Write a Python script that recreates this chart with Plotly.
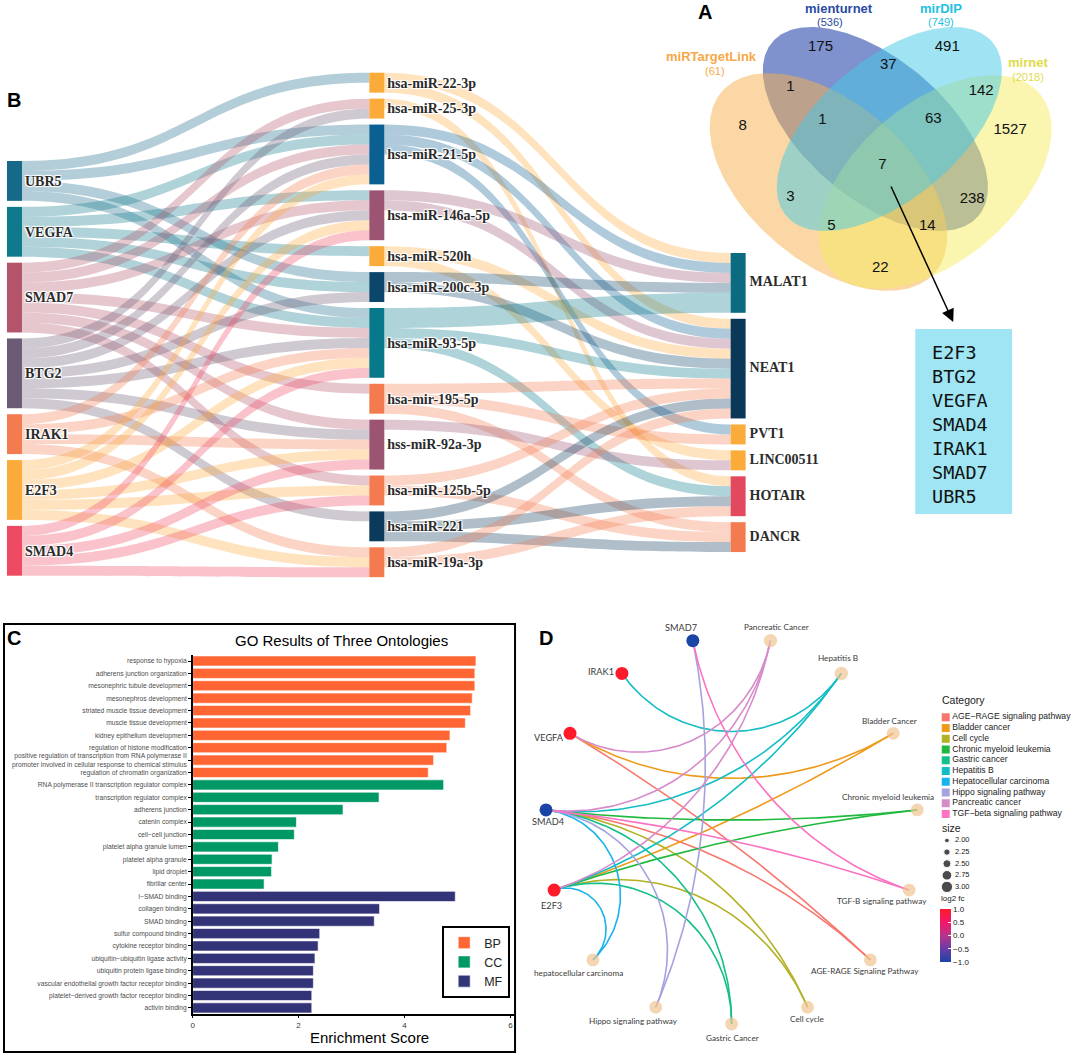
import numpy as np
import plotly.graph_objects as go

FIG_W, FIG_H = 1072, 1055


def fx(p):
    return p / FIG_W


def fy(p):
    return 1 - p / FIG_H


# ===================== DATA =====================
# ---- Panel A : Venn diagram
venn_sets = ["miRTargetLink", "mienturnet", "mirDIP", "mirnet"]
venn_set_sizes = [61, 536, 749, 2018]
venn_region_counts = [175, 491, 37, 1, 142, 8, 1, 63, 1527, 7, 3, 238, 5, 14, 22]
venn_common_genes = ["E2F3", "BTG2", "VEGFA", "SMAD4", "IRAK1", "SMAD7", "UBR5"]

# ---- Panel B : Sankey (gene -> miRNA -> lncRNA)
sankey_genes = ["UBR5", "VEGFA", "SMAD7", "BTG2", "IRAK1", "E2F3", "SMAD4"]
sankey_mirnas = ["hsa-miR-22-3p", "hsa-miR-25-3p", "hsa-miR-21-5p", "hsa-miR-146a-5p",
                 "hsa-miR-520h", "hsa-miR-200c-3p", "hsa-miR-93-5p", "hsa-mir-195-5p",
                 "hss-miR-92a-3p", "hsa-miR-125b-5p", "hsa-miR-221", "hsa-miR-19a-3p"]
sankey_lncrnas = ["MALAT1", "NEAT1", "PVT1", "LINC00511", "HOTAIR", "DANCR"]
gene_mirna_links = [
    ("UBR5", "hsa-miR-22-3p", 1), ("UBR5", "hsa-miR-21-5p", 1), ("UBR5", "hsa-miR-200c-3p", 1),
    ("UBR5", "hsa-miR-93-5p", 1),
    ("VEGFA", "hsa-miR-21-5p", 1), ("VEGFA", "hsa-miR-146a-5p", 1), ("VEGFA", "hsa-miR-520h", 1),
    ("VEGFA", "hsa-miR-200c-3p", 1), ("VEGFA", "hsa-miR-93-5p", 1),
    ("SMAD7", "hsa-miR-25-3p", 1), ("SMAD7", "hsa-miR-21-5p", 1), ("SMAD7", "hsa-miR-146a-5p", 1),
    ("SMAD7", "hsa-miR-93-5p", 1), ("SMAD7", "hsa-mir-195-5p", 1), ("SMAD7", "hss-miR-92a-3p", 1),
    ("SMAD7", "hsa-miR-125b-5p", 1),
    ("BTG2", "hsa-miR-25-3p", 1), ("BTG2", "hsa-miR-21-5p", 1), ("BTG2", "hsa-miR-146a-5p", 1),
    ("BTG2", "hsa-miR-200c-3p", 1), ("BTG2", "hsa-miR-93-5p", 1), ("BTG2", "hss-miR-92a-3p", 1),
    ("BTG2", "hsa-miR-221", 1),
    ("IRAK1", "hsa-miR-21-5p", 1), ("IRAK1", "hsa-miR-93-5p", 1), ("IRAK1", "hss-miR-92a-3p", 1),
    ("IRAK1", "hsa-miR-19a-3p", 1),
    ("E2F3", "hsa-miR-21-5p", 1), ("E2F3", "hsa-miR-146a-5p", 1), ("E2F3", "hsa-miR-93-5p", 1),
    ("E2F3", "hss-miR-92a-3p", 1), ("E2F3", "hsa-miR-125b-5p", 1), ("E2F3", "hsa-miR-19a-3p", 1),
    ("SMAD4", "hsa-miR-146a-5p", 1), ("SMAD4", "hsa-miR-93-5p", 1), ("SMAD4", "hss-miR-92a-3p", 1),
    ("SMAD4", "hsa-miR-125b-5p", 1), ("SMAD4", "hsa-miR-19a-3p", 1),
]
mirna_lnc_links = [
    ("hsa-miR-22-3p", "MALAT1", 1), ("hsa-miR-22-3p", "NEAT1", 1),
    ("hsa-miR-25-3p", "HOTAIR", 1),
    ("hsa-miR-21-5p", "MALAT1", 1), ("hsa-miR-21-5p", "NEAT1", 1), ("hsa-miR-21-5p", "PVT1", 1),
    ("hsa-miR-146a-5p", "MALAT1", 1), ("hsa-miR-146a-5p", "NEAT1", 1),
    ("hsa-miR-520h", "NEAT1", 1), ("hsa-miR-520h", "LINC00511", 1),
    ("hsa-miR-200c-3p", "MALAT1", 1), ("hsa-miR-200c-3p", "NEAT1", 1),
    ("hsa-miR-93-5p", "MALAT1", 2), ("hsa-miR-93-5p", "NEAT1", 1), ("hsa-miR-93-5p", "HOTAIR", 1),
    ("hsa-mir-195-5p", "NEAT1", 1), ("hsa-mir-195-5p", "PVT1", 1), ("hsa-mir-195-5p", "DANCR", 1),
    ("hss-miR-92a-3p", "LINC00511", 1),
    ("hsa-miR-125b-5p", "NEAT1", 1), ("hsa-miR-125b-5p", "DANCR", 1),
    ("hsa-miR-221", "NEAT1", 1), ("hsa-miR-221", "HOTAIR", 1), ("hsa-miR-221", "DANCR", 1),
    ("hsa-miR-19a-3p", "NEAT1", 1), ("hsa-miR-19a-3p", "HOTAIR", 1),
]

# ---- Panel C : GO enrichment
go_bp_terms = ["response to hypoxia", "adherens junction organization", "mesonephric tubule development",
               "mesonephros development", "striated muscle tissue development", "muscle tissue development",
               "kidney epithelium development", "regulation of histone modification",
               "positive regulation of transcription from RNA polymerase II<br>promoter involved in cellular response to chemical stimulus",
               "regulation of chromatin organization"]
go_bp_scores = [5.35, 5.33, 5.33, 5.28, 5.25, 5.15, 4.86, 4.80, 4.55, 4.45]
go_cc_terms = ["RNA polymerase II transcription regulator complex", "transcription regulator complex",
               "adherens junction", "catenin complex", "cell\u2212cell junction", "platelet alpha granule lumen",
               "platelet alpha granule", "lipid droplet", "fibrillar center"]
go_cc_scores = [4.74, 3.52, 2.84, 1.96, 1.92, 1.62, 1.50, 1.49, 1.35]
go_mf_terms = ["I\u2212SMAD binding", "collagen binding", "SMAD binding", "sulfur compound binding",
               "cytokine receptor binding", "ubiquitin\u2212ubiquitin ligase activity",
               "ubiquitin protein ligase binding", "vascular endothelial growth factor receptor binding",
               "platelet\u2212derived growth factor receptor binding", "activin binding"]
go_mf_scores = [4.96, 3.53, 3.43, 2.40, 2.37, 2.31, 2.28, 2.28, 2.25, 2.25]
go_ontologies = ["BP", "CC", "MF"]

# ---- Panel D : gene-pathway network
cnet_genes = ["SMAD7", "IRAK1", "VEGFA", "SMAD4", "E2F3"]
cnet_gene_log2fc = [-1.0, 1.0, 1.0, -1.0, 1.0]
cnet_pathways = ["hepatocellular carcinoma", "Hippo signaling pathway", "Gastric Cancer", "Cell cycle",
                 "AGE-RAGE Signaling Pathway", "TGF-B signaling pathway", "Chronic myeloid leukemia",
                 "Bladder Cancer", "Hepatitis B", "Pancreatic Cancer"]
cnet_categories = ["AGE\u2212RAGE signaling pathway", "Bladder cancer", "Cell cycle",
                   "Chronic myeloid leukemia", "Gastric cancer", "Hepatitis B", "Hepatocellular carcinoma",
                   "Hippo signaling pathway", "Pancreatic cancer", "TGF\u2212beta signaling pathway"]
cnet_pathway_category = ["Hepatocellular carcinoma", "Hippo signaling pathway", "Gastric cancer",
                         "Cell cycle", "AGE\u2212RAGE signaling pathway", "TGF\u2212beta signaling pathway",
                         "Chronic myeloid leukemia", "Bladder cancer", "Hepatitis B", "Pancreatic cancer"]
cnet_edges = [
    ("VEGFA", "Pancreatic Cancer"), ("SMAD4", "Pancreatic Cancer"), ("E2F3", "Pancreatic Cancer"),
    ("IRAK1", "Hepatitis B"), ("SMAD4", "Hepatitis B"), ("E2F3", "Hepatitis B"),
    ("VEGFA", "Bladder Cancer"), ("E2F3", "Bladder Cancer"),
    ("SMAD4", "Chronic myeloid leukemia"), ("E2F3", "Chronic myeloid leukemia"),
    ("SMAD7", "TGF-B signaling pathway"), ("SMAD4", "TGF-B signaling pathway"),
    ("VEGFA", "AGE-RAGE Signaling Pathway"), ("SMAD4", "AGE-RAGE Signaling Pathway"),
    ("SMAD4", "Cell cycle"), ("E2F3", "Cell cycle"),
    ("SMAD4", "Gastric Cancer"), ("E2F3", "Gastric Cancer"),
    ("SMAD7", "Hippo signaling pathway"), ("SMAD4", "Hippo signaling pathway"),
    ("SMAD4", "hepatocellular carcinoma"), ("E2F3", "hepatocellular carcinoma"),
]
size_legend_values = [2.00, 2.25, 2.50, 2.75, 3.00]
log2fc_ticks = [-1.0, -0.5, 0.0, 0.5, 1.0]

# ===================== STYLE / LAYOUT PARAMETERS =====================
SANS = "Liberation Sans, Arial, sans-serif"
SERIF = "Liberation Serif, Times New Roman, serif"
MONO = "DejaVu Sans Mono, monospace"
LABF = "Lato, sans-serif"

sankey_gene_colors = ["#17698a", "#0f7a8c", "#b4546b", "#6c5b76", "#f47b50", "#fbab3a", "#ef4a63"]
sankey_mirna_colors = ["#fbab3a", "#fbab3a", "#0b5f91", "#9b5572", "#fbab3a", "#0d466b", "#08788b",
                       "#f47b50", "#9b5572", "#f47b50", "#0b3a5a", "#f47b50"]
sankey_lnc_colors = ["#0b6b80", "#0b3858", "#fbab3a", "#fbab3a", "#e2495f", "#f47b50"]
LINK_ALPHA = 0.33

SK_TOP, SK_BOT = 72.5, 577.0
SK_W = 857.6
SK_PAD, SK_THICK = 6, 15
sk_col_center_x = [12.5, 375.5, 737.5]
sk_col_top = [161.0, 72.7, 253.0]

venn_fill_rgb = [(247, 175, 75), (23, 56, 164), (65, 201, 231), (245, 235, 95)]
venn_fill_alpha = [0.5, 0.55, 0.5, 0.5]
venn_draw_order = [1, 0, 3, 2]
venn_label_colors = ["#f5a948", "#2a4ba3", "#22c1e2", "#dedb4a"]
ell_cx = [828, 875, 889, 935]
ell_cy = [182, 129, 129, 182]
ell_a = [140, 135, 135, 137]
ell_b = [80, 70, 70, 79]
ell_ang = [40, 40, -40, -40]
# (name x, name y, size x, size y)
venn_set_label_pos = [(711, 56, 714, 71), (839, 8.5, 830, 22), (941, 8.5, 941, 22),
                      (1028, 62, 1028, 77)]
venn_region_pos = [(820, 47), (947, 47), (888, 65), (790, 87), (981, 91), (742, 126), (822, 120),
                   (933, 119), (1010, 130), (882, 165), (790, 197), (972, 199), (831, 226), (927, 226),
                   (880, 268)]

go_colors = {"BP": "#ff6633", "CC": "#009966", "MF": "#333377"}
C_X0, C_UNIT, C_XMAX = 191.0, 53.05, 6.08
C_ROW0, C_ROWSTEP = 661.0, 12.39

cat_colors = ["#F8766D", "#EE9B1C", "#B3B124", "#20B93E", "#14BF8A", "#12BEC4", "#17B3EE",
              "#A5A2E0", "#D68CCB", "#FB73C2"]
D_CX, D_CY, D_RX, D_RY = 731.0, 830.2, 187.0, 193.8
D_START_ANG = 102.0
D_XR, D_YR = (-1.2, 1.2), (-1.1, 1.15)
# label offsets (pixels, right / up) relative to node centre
gene_label_shift = [(-12, 13), (-21, 2), (-21, -4.5), (2, -12), (-3, -15)]
path_label_shift = [(-14, -13), (-22, -14), (1, -14), (-1, -12), (-5, -11.5), (-27, -11),
                    (-29, 12.5), (-4, 12), (-3.5, 15), (6, 14)]
fc_colorscale = [[0.0, "#1a44a6"], [0.25, "#6a3ba6"], [0.5, "#b8348c"], [0.75, "#f3176a"], [1.0, "#ff1a2a"]]

fig = go.Figure()

# ===================== PANEL B : SANKEY =====================
nodes = sankey_genes + sankey_mirnas + sankey_lncrnas
node_colors = sankey_gene_colors + sankey_mirna_colors + sankey_lnc_colors
idx = {n: i for i, n in enumerate(nodes)}
links = gene_mirna_links + mirna_lnc_links
inflow = np.zeros(len(nodes))
outflow = np.zeros(len(nodes))
for s, t, v in links:
    outflow[idx[s]] += v
    inflow[idx[t]] += v
node_val = np.maximum(inflow, outflow)
columns = [sankey_genes, sankey_mirnas, sankey_lncrnas]
sk_h = SK_BOT - SK_TOP
ky = min((sk_h - (len(c) - 1) * SK_PAD) / sum(node_val[idx[n]] for n in c) for c in columns)
node_x = [0.0] * len(nodes)
node_y = [0.0] * len(nodes)
node_center_px = {}
for ci, col in enumerate(columns):
    cum = sk_col_top[ci] - SK_TOP
    for n in col:
        h = node_val[idx[n]] * ky
        yc = cum + h / 2
        node_x[idx[n]] = sk_col_center_x[ci] / SK_W
        node_y[idx[n]] = yc / sk_h
        node_center_px[n] = SK_TOP + yc
        cum += h + SK_PAD


def rgba(hexc, a):
    hexc = hexc.lstrip("#")
    r, g, b = int(hexc[0:2], 16), int(hexc[2:4], 16), int(hexc[4:6], 16)
    return f"rgba({r},{g},{b},{a})"


link_colors = [rgba(node_colors[idx[s]], LINK_ALPHA) for s, t, v in links]
# right-column labels are drawn to the right of the nodes separately
node_labels = [n if n not in sankey_lncrnas else "" for n in nodes]

fig.add_trace(go.Sankey(
    domain=dict(x=[0, fx(SK_W)], y=[fy(SK_BOT), fy(SK_TOP)]),
    arrangement="fixed",
    node=dict(label=node_labels, color=node_colors, pad=SK_PAD, thickness=SK_THICK,
              line=dict(width=0), x=node_x, y=node_y, hoverinfo="none"),
    link=dict(source=[idx[s] for s, t, v in links], target=[idx[t] for s, t, v in links],
              value=[v for s, t, v in links], color=link_colors, hoverinfo="none"),
    textfont=dict(family=SERIF, size=14, color="#2b2b2b", weight="bold"),
))

# canvas axis (pixel coordinates) : x3 / y3
CAN = dict(xaxis="x3", yaxis="y3")
fig.add_trace(go.Scatter(
    x=[sk_col_center_x[2] + SK_THICK / 2 + 4] * len(sankey_lncrnas),
    y=[node_center_px[n] for n in sankey_lncrnas],
    text=sankey_lncrnas, mode="text", textposition="middle right",
    textfont=dict(family=SERIF, size=14, color="#2b2b2b", weight="bold"),
    hoverinfo="skip", showlegend=False, cliponaxis=False, **CAN))

# ===================== PANEL A : VENN =====================
def ellipse_xy(cx, cy, a, b, ang_deg, n=240):
    t = np.linspace(0, 2 * np.pi, n)
    th = np.deg2rad(ang_deg)
    x = cx + a * np.cos(t) * np.cos(th) - b * np.sin(t) * np.sin(th)
    y = cy + a * np.cos(t) * np.sin(th) + b * np.sin(t) * np.cos(th)
    return x, y


for k in venn_draw_order:
    ex, ey = ellipse_xy(ell_cx[k], ell_cy[k], ell_a[k], ell_b[k], ell_ang[k])
    r, g, b = venn_fill_rgb[k]
    fig.add_trace(go.Scatter(x=ex, y=ey, mode="lines", fill="toself", line=dict(width=0),
                             fillcolor=f"rgba({r},{g},{b},{venn_fill_alpha[k]})",
                             hoverinfo="skip", showlegend=False, **CAN))

fig.add_trace(go.Scatter(
    x=[p[0] for p in venn_region_pos], y=[p[1] for p in venn_region_pos],
    text=[str(c) for c in venn_region_counts], mode="text", textposition="middle center",
    textfont=dict(family=SANS, size=15, color="#111111"),
    hoverinfo="skip", showlegend=False, cliponaxis=False, **CAN))

annotations = []
for k, name in enumerate(venn_sets):
    x1, y1, x2, y2 = venn_set_label_pos[k]
    annotations.append(dict(x=x1, y=y1, xref="x3", yref="y3", text=f"<b>{name}</b>", showarrow=False,
                            borderpad=0, font=dict(family=SANS, size=13, color=venn_label_colors[k])))
    annotations.append(dict(x=x2, y=y2, xref="x3", yref="y3", text=f"({venn_set_sizes[k]})",
                            showarrow=False, borderpad=0,
                            font=dict(family=SANS, size=11, color=venn_label_colors[k])))

# arrow and gene box
annotations.append(dict(x=953, y=322, ax=890, ay=185, xref="x3", yref="y3", axref="x3", ayref="y3",
                        text="", showarrow=True, arrowhead=2, arrowsize=1.7, arrowwidth=1.5,
                        arrowcolor="black"))
annotations.append(dict(x=930, y=424, xref="x3", yref="y3", xanchor="left", yanchor="middle",
                        align="left", text="<br>".join(venn_common_genes), showarrow=False,
                        font=dict(family=MONO, size=18.5, color="#111111")))

shapes = [dict(type="rect", xref="x3", yref="y3", x0=915, x1=1012, y0=329, y1=514,
               fillcolor="#9fe5f3", line=dict(width=0), layer="below")]

# ===================== PANEL C : GO BAR CHART =====================
all_terms = go_bp_terms + go_cc_terms + go_mf_terms
n_rows = len(all_terms)
for ont, terms, scores in zip(go_ontologies, [go_bp_terms, go_cc_terms, go_mf_terms],
                              [go_bp_scores, go_cc_scores, go_mf_scores]):
    fig.add_trace(go.Bar(x=scores, y=terms, orientation="h", name=ont, width=0.82,
                         marker=dict(color=go_colors[ont], line=dict(color="white", width=0.6)),
                         hoverinfo="skip", xaxis="x", yaxis="y"))

c_top = C_ROW0 - C_ROWSTEP / 2
c_bot = C_ROW0 + (n_rows - 0.5) * C_ROWSTEP
annotations.append(dict(x=fx(340), y=fy(641), xref="paper", yref="paper", xanchor="center",
                        yanchor="middle", text="GO Results of Three Ontologies", showarrow=False,
                        font=dict(family=SANS, size=15, color="black")))
annotations.append(dict(x=fx(368), y=fy(1037), xref="paper", yref="paper", xanchor="center",
                        yanchor="middle", text="Enrichment Score", showarrow=False,
                        font=dict(family=SANS, size=15, color="black")))
shapes.append(dict(type="rect", xref="paper", yref="paper", x0=fx(2), x1=fx(514), y0=fy(1052),
                   y1=fy(624), line=dict(color="black", width=2), fillcolor="rgba(0,0,0,0)"))

# ===================== PANEL D : NETWORK =====================
layout_nodes = cnet_genes + cnet_pathways
n_nodes = len(layout_nodes)
angles = np.deg2rad(D_START_ANG + np.arange(n_nodes) * 360.0 / n_nodes)
pos = {n: np.array([np.cos(a), np.sin(a)]) for n, a in zip(layout_nodes, angles)}


def arc_points(p, q, n=80):
    s = p + q
    s2 = float(s @ s)
    t = np.linspace(0, 1, n)
    if s2 < 1e-6:
        return np.outer(1 - t, p) + np.outer(t, q)
    c = 2 * s / s2
    r = np.linalg.norm(p - c)
    a0 = np.arctan2(p[1] - c[1], p[0] - c[0])
    a1 = np.arctan2(q[1] - c[1], q[0] - c[0])
    d = (a1 - a0 + np.pi) % (2 * np.pi) - np.pi
    ang = a0 + d * t
    return np.column_stack([c[0] + r * np.cos(ang), c[1] + r * np.sin(ang)])


path_cat = dict(zip(cnet_pathways, cnet_pathway_category))
for ci, cat in enumerate(cnet_categories):
    xs, ys = [], []
    for g, pth in cnet_edges:
        if path_cat[pth] != cat:
            continue
        pts = arc_points(pos[g], pos[pth])
        xs += list(pts[:, 0]) + [None]
        ys += list(pts[:, 1]) + [None]
    fig.add_trace(go.Scatter(x=xs, y=ys, mode="lines", line=dict(color=cat_colors[ci], width=1.6),
                             hoverinfo="skip", showlegend=False, xaxis="x2", yaxis="y2"))

path_count = [sum(1 for g, pth in cnet_edges if pth == p) for p in cnet_pathways]
fig.add_trace(go.Scatter(
    x=[pos[p][0] for p in cnet_pathways], y=[pos[p][1] for p in cnet_pathways],
    mode="markers",
    marker=dict(color="#f0c591", size=[12.8 + 0.6 * (c - 2) for c in path_count], line=dict(width=0)),
    hoverinfo="skip", showlegend=False, cliponaxis=False, xaxis="x2", yaxis="y2"))

fig.add_trace(go.Scatter(
    x=[pos[g][0] for g in cnet_genes], y=[pos[g][1] for g in cnet_genes],
    mode="markers",
    marker=dict(color=cnet_gene_log2fc, colorscale=fc_colorscale, cmin=-1, cmax=1, size=13,
                line=dict(width=0), showscale=True,
                colorbar=dict(x=fx(940), xanchor="left", y=fy(909), yanchor="top",
                              len=53, lenmode="pixels", thickness=11, thicknessmode="pixels",
                              xpad=0, ypad=0, outlinewidth=0, tickvals=log2fc_ticks,
                              ticktext=[f"{v:.1f}".replace("-", "\u2212") for v in log2fc_ticks],
                              ticks="inside", tickcolor="white", ticklen=3,
                              tickfont=dict(family=SANS, size=8, color="#222"))),
    hoverinfo="skip", showlegend=False, cliponaxis=False, xaxis="x2", yaxis="y2"))

for g, (dx, dy) in zip(cnet_genes, gene_label_shift):
    annotations.append(dict(x=pos[g][0], y=pos[g][1], xref="x2", yref="y2", xshift=dx, yshift=dy,
                            text=g, showarrow=False, font=dict(family=LABF, size=9.2, color="#3a3a3a")))
for p, (dx, dy) in zip(cnet_pathways, path_label_shift):
    annotations.append(dict(x=pos[p][0], y=pos[p][1], xref="x2", yref="y2", xshift=dx, yshift=dy,
                            text=p, showarrow=False, font=dict(family=LABF, size=8.2, color="#3a3a3a")))

annotations.append(dict(x=939, y=898.5, xref="x3", yref="y3", xanchor="left", yanchor="middle",
                        text="log2 fc", showarrow=False, font=dict(family=SANS, size=8, color="#222")))

# manual category / size legend for panel D
LEG_X, LEG_Y0, LEG_DY = 945.5, 717.3, 10.74
annotations.append(dict(x=940, y=700, xref="x3", yref="y3", xanchor="left", text="Category",
                        showarrow=False, font=dict(family=SANS, size=10.5, color="#222")))
fig.add_trace(go.Scatter(
    x=[LEG_X] * len(cnet_categories), y=[LEG_Y0 + i * LEG_DY for i in range(len(cnet_categories))],
    mode="markers", marker=dict(symbol="square", size=8, color=cat_colors, line=dict(width=0)),
    hoverinfo="skip", showlegend=False, **CAN))
fig.add_trace(go.Scatter(
    x=[LEG_X + 6.5] * len(cnet_categories), y=[LEG_Y0 + i * LEG_DY for i in range(len(cnet_categories))],
    mode="text", text=cnet_categories, textposition="middle right",
    textfont=dict(family=SANS, size=8.6, color="#222"),
    hoverinfo="skip", showlegend=False, cliponaxis=False, **CAN))

SZ_X, SZ_Y0, SZ_DY = 946.7, 840.5, 11.6
annotations.append(dict(x=941, y=828, xref="x3", yref="y3", xanchor="left", yanchor="middle", text="size",
                        showarrow=False, borderpad=0, font=dict(family=SANS, size=10.5, color="#222")))
fig.add_trace(go.Scatter(
    x=[SZ_X] * len(size_legend_values), y=[SZ_Y0 + i * SZ_DY for i in range(len(size_legend_values))],
    mode="markers", marker=dict(color="black", size=[4.7 + (v - 2) * 6.6 for v in size_legend_values]),
    hoverinfo="skip", showlegend=False, **CAN))
fig.add_trace(go.Scatter(
    x=[SZ_X + 8] * len(size_legend_values), y=[SZ_Y0 + i * SZ_DY for i in range(len(size_legend_values))],
    mode="text", text=[f"{v:.2f}" for v in size_legend_values], textposition="middle right",
    textfont=dict(family=SANS, size=7.5, color="#222"),
    hoverinfo="skip", showlegend=False, cliponaxis=False, **CAN))

# panel letters
for letter, (lx, ly) in zip("ABCD", [(704, 12), (12, 99.5), (12, 637.5), (545.5, 637.5)]):
    annotations.append(dict(x=lx, y=ly, xref="x3", yref="y3", text=f"<b>{letter}</b>", showarrow=False,
                            font=dict(family=SANS, size=20, color="black")))

# ===================== LAYOUT =====================
fig.update_layout(
    width=FIG_W, height=FIG_H, margin=dict(l=0, r=0, t=0, b=0),
    paper_bgcolor="white", plot_bgcolor="rgba(0,0,0,0)",
    barmode="overlay", bargap=0.18,
    font=dict(family=SANS),
    xaxis=dict(domain=[fx(C_X0), fx(C_X0 + C_XMAX * C_UNIT)], range=[0, C_XMAX], anchor="y",
               tickvals=[0, 2, 4, 6], ticks="outside", ticklen=2.5, tickcolor="black",
               tickfont=dict(size=8, color="#333"), showline=True, linecolor="black", linewidth=1.5,
               showgrid=False, zeroline=False),
    yaxis=dict(domain=[fy(c_bot), fy(c_top)], anchor="x", categoryorder="array", categoryarray=all_terms,
               range=[n_rows - 0.5, -0.5], ticks="outside", ticklen=3, tickcolor="black",
               tickfont=dict(size=6.7, color="#4d4d4d"), showline=True, linecolor="black",
               linewidth=1.5, showgrid=False, zeroline=False),
    xaxis2=dict(domain=[fx(D_CX + D_XR[0] * D_RX), fx(D_CX + D_XR[1] * D_RX)], range=list(D_XR),
                anchor="y2", visible=False),
    yaxis2=dict(domain=[fy(D_CY - D_YR[0] * D_RY), fy(D_CY - D_YR[1] * D_RY)], range=list(D_YR),
                anchor="x2", visible=False),
    xaxis3=dict(domain=[0, 1], range=[0, FIG_W], anchor="y3", visible=False),
    yaxis3=dict(domain=[0, 1], range=[FIG_H, 0], anchor="x3", visible=False),
    legend=dict(x=fx(441), y=fy(926), xanchor="left", yanchor="top", bordercolor="black", borderwidth=2,
                bgcolor="white", font=dict(family=SANS, size=12.5, color="#222"), tracegroupgap=0),
    annotations=annotations, shapes=shapes,
)

fig.write_html("out.html", config={"displayModeBar": False, "staticPlot": True},
               post_script="document.body.style.margin='0px';document.body.style.overflow='hidden';")
